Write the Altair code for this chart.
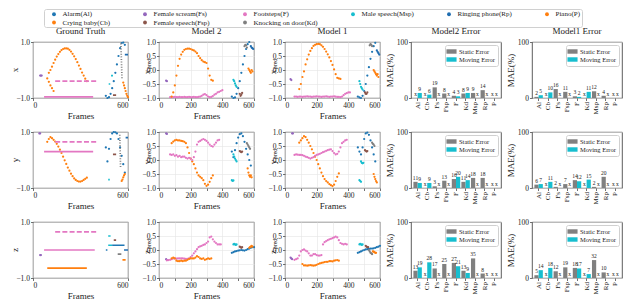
import altair as alt
import pandas as pd

FONT = "Liberation Serif"

# ---------------- classes / colours (legend order = row-major of reference) ----
AL, FS, F, MSP, RP, P, CB, FSP, KD = [
    "Alarm(Al)", "Female scream(Fs)", "Footsteps(F)", "Male speech(Msp)",
    "Ringing phone(Rp)", "Piano(P)", "Crying baby(Cb)", "Female speech(Fsp)",
    "Knocking on door(Kd)"]
LEGEND_ORDER = [AL, FS, F, MSP, RP, P, CB, FSP, KD]
LEGEND_COLORS = ["#1f77b4", "#9467bd", "#e377c2", "#17becf", "#1f6db0",
                 "#ff7f0e", "#ff7f0e", "#8c564b", "#7f7f7f"]

FRAME_TICKS = [0, 100, 200, 300, 400, 500, 600]
VAL_TICKS = [-1.0, -0.5, 0.0, 0.5, 1.0]

# ---------------- Ground truth: dotted curves
GTX_FS = [-0.2, -0.2, -0.2]
GTX_P = [-0.1, 0.0, 0.12, 0.25, 0.37, 0.48, 0.57, 0.65, 0.71, 0.75, 0.77, 0.77,
         0.76, 0.72, 0.66, 0.58, 0.49, 0.39, 0.28, 0.16, 0.04, -0.09, -0.2, -0.31, -0.4]
GTX_CB = [-0.3, -0.42, -0.55, -0.65, -0.75]
GTX_AL = [-0.92, -1.0, -0.97, -0.85, -0.65, -0.4, -0.1, 0.2, 0.5, 0.78, 0.96, 0.98, 0.9]
GTX_CB2 = [-0.45, -0.55, -0.65, -0.75, -0.85, -0.92, -0.97]

GTY_FS = [0.95, 0.95]
GTY_CB = [0.65, 0.75, 0.82, 0.78, 0.72, 0.66, 0.58, 0.48, 0.37, 0.25, 0.12, -0.01,
          -0.14, -0.27, -0.38, -0.49, -0.58, -0.66, -0.71, -0.75, -0.77, -0.77,
          -0.75, -0.71, -0.67, -0.63]
GTY_AL = [0.45, -0.05, 0.4, 0.75, 0.95, 1.0, 0.99, 0.95, 0.75, 0.45, 0.15, -0.15, -0.45]
GTY_CB2 = [-0.75, -0.7, -0.62, -0.55, -0.5]

GTZ_FS = [-0.18, -0.18]

# ---------------- Ground truth: flat segments (class, x0, x1, y0, y1, style)
GTX_SEG = [(F, 70, 380, -0.96, -0.96, "solid"), (F, 140, 400, -0.4, -0.4, "dash"),
           (MSP, 478, 488, -0.5, -0.5, "solid"), (MSP, 493, 505, -0.2, -0.2, "solid"),
           (FSP, 505, 525, -0.9, -0.9, "solid"), (RP, 580, 600, 0.55, 0.55, "solid"),
           (KD, 555, 562, 0.95, -0.3, "dot")]
GTY_SEG = [(F, 70, 380, 0.3, 0.3, "solid"), (F, 140, 400, 0.65, 0.65, "dash"),
           (FSP, 505, 525, 0.2, 0.2, "solid"), (MSP, 475, 485, -0.7, -0.7, "solid"),
           (RP, 585, 600, 0.8, 0.8, "solid"), (KD, 548, 553, 0.9, -0.25, "dot")]
GTZ_SEG = [(F, 70, 390, 0.0, 0.0, "solid"), (F, 140, 400, 0.65, 0.65, "dash"),
           (CB, 90, 340, -0.65, -0.65, "solid"), (MSP, 475, 490, 0.5, 0.5, "solid"),
           (AL, 460, 470, 0.0, 0.0, "solid"), (MSP, 475, 500, 0.17, 0.17, "solid"),
           (AL, 500, 578, 0.17, 0.17, "solid"), (FSP, 510, 525, 0.35, 0.35, "solid"),
           (KD, 535, 558, -0.15, -0.15, "solid"), (RP, 575, 600, 0.0, 0.0, "solid"),
           (P, 565, 585, -0.35, -0.35, "solid")]

# ---------------- Model 2 predictions
M2X_FS = [-0.38, -0.4]
M2X_F = [-0.97, -0.97, -0.97, -0.96, -0.97, -0.97, -0.96, -0.97, -0.97, -0.96, -0.97,
         -0.97, -0.96, -0.97, -0.97, -0.96, -0.97, -0.97, -0.96, -0.95, -0.92, -0.88,
         -0.86, -0.9, -0.95, -0.97, -0.96, -0.93, -0.88, -0.85, -0.8, -0.78, -0.75, -0.72]
M2X_CB = [-0.95, -0.8, -0.55, -0.2, 0.15, 0.4, 0.55, 0.65, 0.72, 0.75, 0.76, 0.76,
          0.75, 0.72, 0.7, 0.66, 0.6, 0.5, 0.42, 0.35, 0.3, 0.28, 0.25, 0.05, -0.2,
          -0.35, -0.38]
M2X_AL = [-0.95, -1.0, -0.98, -0.85, -0.65, -0.4, -0.1, 0.2, 0.5, 0.75, 0.92, 1.0]
M2X_RP = [0.85, 0.8, 0.78, 0.75]
M2X_MSP = [-0.35, -0.4, -0.48, -0.55, -0.6]
M2X_FSP = [-0.85, -0.92, -0.88, -0.82]
M2X_KD = [0.85, 0.9, 0.88, 0.8]
M2X_P = [0.05, 0.0, -0.05, -0.1, 0.0, -0.05]

M2Y_FS = [0.95, 0.93]
M2Y_CB = [0.6, 0.66, 0.7, 0.72, 0.7, 0.7, 0.68, 0.67, 0.65, 0.6, 0.45, 0.25, 0.05,
          -0.05, -0.15, -0.3, -0.45, -0.55, -0.6, -0.65, -0.72, -0.85, -0.92, -0.88,
          -0.78, -0.65, -0.55]
M2Y_F = [0.2, 0.18, 0.2, 0.15, 0.17, 0.12, 0.15, 0.1, 0.12, 0.12, 0.08, 0.05, 0.08,
         0.05, 0.0, 0.1, 0.3, 0.55, 0.65, 0.68, 0.72, 0.75, 0.72, 0.68, 0.62, 0.55,
         0.5, 0.48, 0.55, 0.62, 0.7, 0.72]
M2Y_AL = [0.3, 0.1, 0.35, 0.6, 0.8, 0.92, 0.95, 0.85, 0.65, 0.4, 0.2, 0.0, -0.2]
M2Y_MSP = [0.2, 0.12, 0.05, 0.0, -0.05]
M2Y_MSP2 = [-0.72, -0.75, -0.73]
M2Y_FSP = [0.32, 0.3, 0.28, 0.3]
M2Y_KD = [0.6, 0.55, 0.5, 0.45, 0.4]
M2Y_P = [-0.3, -0.45, -0.55, -0.6, -0.55, -0.62]

M2Z_FS = [-0.33, -0.36]
M2Z_F = [-0.37, -0.36, -0.35, -0.33, -0.3, -0.3, -0.31, -0.3, -0.3, -0.3, -0.3, -0.31,
         -0.32, -0.32, -0.3, -0.25, -0.2, -0.12, -0.05, 0.03, 0.1, 0.13, 0.15, 0.18,
         0.2, 0.25, 0.3, 0.45, 0.48, 0.38, 0.3, 0.25, 0.2, 0.2, 0.2]
M2Z_CB = [-0.3, -0.27, -0.3, -0.38, -0.4, -0.4, -0.38, -0.4, -0.38, -0.38, -0.35,
          -0.32, -0.3, -0.3, -0.3, -0.27, -0.22, -0.25, -0.3, -0.32, -0.3, -0.35,
          -0.33, -0.3, -0.32, -0.3]
M2Z_AL = [-0.1, -0.08, -0.05, -0.04, -0.02, -0.01, 0.0, -0.01, -0.02, 0.0, 0.03,
          0.05, 0.08, 0.1, 0.1]
M2Z_MSP = [0.2, 0.22, 0.2, 0.18, 0.2]
M2Z_FSP = [0.12, 0.1, 0.08, 0.1]
M2Z_P = [0.08, 0.1, 0.12, 0.15, 0.12]

# ---------------- Model 1 predictions
M1X_FS = [-0.33, -0.36]
M1X_CB = [-0.68, -0.5, -0.25, -0.05, 0.2, 0.38, 0.55, 0.68, 0.78, 0.86, 0.9, 0.92,
          0.93, 0.92, 0.88, 0.83, 0.75, 0.66, 0.56, 0.45, 0.32, 0.18, 0.02, -0.15,
          -0.28, -0.3, -0.32]
M1X_F = [-0.95, -0.95, -0.96, -0.95, -0.95, -0.96, -0.95, -0.95, -0.94, -0.95, -0.95,
         -0.96, -0.95, -0.95, -0.94, -0.95, -0.95, -0.96, -0.95, -0.95, -0.94, -0.95,
         -0.96, -0.95, -0.95, -0.94, -0.95, -0.96, -0.96, -0.97, -0.95, -0.9, -0.85,
         -0.83, -0.8, -0.8]
M1X_AL = [-0.95, -0.98, -1.0, -0.92, -0.75, -0.5, -0.2, 0.1, 0.4, 0.65, 0.85, 0.97]
M1X_RP = [0.7, 0.65, 0.6, 0.55]
M1X_MSP = [-0.4, -0.5, -0.6, -0.65, -0.7]
M1X_FSP = [-0.8, -0.85, -0.85, -0.8]
M1X_KD = [0.88, 0.92, 0.9, 0.85]
M1X_P = [0.0, -0.05, -0.1, -0.15, -0.2, -0.15, -0.25]

M1Y_FS = [0.95, 0.95]
M1Y_CB = [0.62, 0.7, 0.78, 0.85, 0.82, 0.72, 0.62, 0.5, 0.38, 0.25, 0.12, 0.0, -0.15,
          -0.3, -0.45, -0.58, -0.68, -0.75, -0.8, -0.86, -0.9, -0.93, -0.88, -0.75,
          -0.6, -0.48]
M1Y_F = [0.18, 0.2, 0.19, 0.18, 0.18, 0.17, 0.15, 0.12, 0.1, 0.08, 0.05, 0.08, 0.1,
         0.15, 0.18, 0.2, 0.22, 0.25, 0.28, 0.3, 0.33, 0.35, 0.37, 0.38, 0.32, 0.25,
         0.2, 0.22, 0.3, 0.45, 0.6, 0.65, 0.7, 0.72]
M1Y_AL = [0.45, 0.3, 0.2, 0.45, 0.75, 0.95, 0.98, 0.9, 0.7, 0.45, 0.2, -0.05]
M1Y_FSP = [0.35, 0.33, 0.3, 0.32]
M1Y_MSP = [-0.05, -0.1, -0.12, -0.1]
M1Y_MSP2 = [-0.72, -0.75, -0.78]
M1Y_KD = [0.62, 0.58, 0.55, 0.5]
M1Y_P = [-0.5, -0.6, -0.68, -0.75, -0.8]

M1Z_FS = [-0.27, -0.3, -0.33]
M1Z_F = [-0.35, -0.33, -0.3, -0.2, -0.05, 0.0, 0.02, -0.02, -0.05, -0.12, -0.2,
         -0.2, -0.15, -0.15, -0.18, -0.2, -0.2, -0.18, 0.2, 0.28, 0.32, 0.35, 0.38,
         0.4, 0.42, 0.45, 0.48, 0.45, 0.35, 0.25, 0.22, 0.2, 0.22, 0.2]
M1Z_CB = [-0.5, -0.55, -0.55, -0.56, -0.55, -0.54, -0.55, -0.56, -0.55, -0.53,
          -0.5, -0.48, -0.46, -0.45, -0.43, -0.42, -0.42, -0.4, -0.4, -0.41, -0.38,
          -0.37, -0.36, -0.38]
M1Z_AL = [-0.1, -0.08, -0.05, -0.02, 0.0, 0.02, 0.03, 0.04, 0.05, 0.05, 0.06, 0.08,
          0.1, 0.12, 0.15]
M1Z_MSP = [0.2, 0.22, 0.2, 0.18, 0.2]
M1Z_FSP = [0.15, 0.12, 0.1, 0.1]
M1Z_KD = [0.0, -0.05, -0.1, -0.12, -0.15]
M1Z_P = [-0.05, -0.06, -0.08, -0.1, -0.1]

# ---------------- per-panel dotted series: (class, start, step, values)
GTX_PTS = [(FS, 45, 5, GTX_FS), (P, 100, 10, GTX_P), (CB, 90, 10, GTX_CB),
           (AL, 460, 10, GTX_AL), (CB, 570, 5, GTX_CB2)]
GTY_PTS = [(FS, 40, 5, GTY_FS), (CB, 90, 10, GTY_CB), (AL, 460, 10, GTY_AL),
           (CB, 560, 5, GTY_CB2)]
GTZ_PTS = [(FS, 45, 5, GTZ_FS)]
M2X_PTS = [(FS, 45, 5, M2X_FS), (F, 70, 10, M2X_F), (CB, 80, 10, M2X_CB),
           (AL, 460, 10, M2X_AL), (RP, 580, 5, M2X_RP), (MSP, 470, 5, M2X_MSP),
           (FSP, 510, 5, M2X_FSP), (KD, 540, 5, M2X_KD), (P, 565, 5, M2X_P)]
M2Y_PTS = [(FS, 45, 5, M2Y_FS), (CB, 80, 10, M2Y_CB), (F, 70, 10, M2Y_F),
           (AL, 460, 10, M2Y_AL), (MSP, 470, 5, M2Y_MSP), (MSP, 460, 5, M2Y_MSP2),
           (FSP, 510, 5, M2Y_FSP), (KD, 555, 5, M2Y_KD), (P, 560, 5, M2Y_P)]
M2Z_PTS = [(FS, 45, 5, M2Z_FS), (F, 50, 10, M2Z_F), (CB, 80, 10, M2Z_CB),
           (AL, 460, 10, M2Z_AL), (MSP, 470, 5, M2Z_MSP), (FSP, 510, 5, M2Z_FSP),
           (P, 570, 5, M2Z_P)]
M1X_PTS = [(FS, 35, 5, M1X_FS), (CB, 90, 10, M1X_CB), (F, 60, 10, M1X_F),
           (AL, 460, 10, M1X_AL), (RP, 580, 5, M1X_RP), (MSP, 470, 5, M1X_MSP),
           (FSP, 505, 5, M1X_FSP), (KD, 535, 5, M1X_KD), (P, 560, 5, M1X_P)]
M1Y_PTS = [(FS, 45, 5, M1Y_FS), (CB, 90, 10, M1Y_CB), (F, 60, 10, M1Y_F),
           (AL, 460, 10, M1Y_AL), (FSP, 505, 5, M1Y_FSP), (MSP, 480, 5, M1Y_MSP),
           (MSP, 470, 5, M1Y_MSP2), (KD, 550, 5, M1Y_KD), (P, 560, 5, M1Y_P)]
M1Z_PTS = [(FS, 35, 5, M1Z_FS), (F, 60, 10, M1Z_F), (CB, 110, 10, M1Z_CB),
           (AL, 460, 10, M1Z_AL), (MSP, 470, 5, M1Z_MSP), (FSP, 510, 5, M1Z_FSP),
           (KD, 530, 5, M1Z_KD), (P, 555, 5, M1Z_P)]

# ---------------- error bars
CATS = ["Al", "Cb", "Fs", "Fsp", "F", "Kd", "Msp", "Rp", "P"]
KINDS = ["Static Error", "Moving Error"]
M2X_STATIC = [None, None, 19, 8, 4, 8, 9, 14, None]
M2X_MOVING = [9, 6, None, None, 3, 9, None, None, None]
M1X_STATIC = [2, None, 16, 11, 3, None, 12, 4, None]
M1X_MOVING = [5, 10, None, None, 2, 11, None, None, None]
M2Y_STATIC = [11, None, 3, 13, 16, 11, 18, 18, None]
M2Y_MOVING = [9, 9, None, None, 20, 14, None, None, None]
M1Y_STATIC = [6, None, 2, 7, 14, None, 2, 20, None]
M1Y_MOVING = [7, 11, None, None, 12, 15, None, None, None]
M2Z_STATIC = [13, None, 17, 25, 27, 13, 35, 8, None]
M2Z_MOVING = [19, 28, None, None, 21, 9, None, None, None]
M1Z_STATIC = [5, None, 12, 19, 18, None, 32, 10, None]
M1Z_MOVING = [14, 18, None, None, 17, 7, None, None, None]

TXT = "#222222"
ROW_PITCH = 56 + 34
PAD_RP = " " * 20
PAD_P = " " * 10
MAIN_LEGEND = alt.Legend(
    orient="none", legendX=11, legendY=-33 - ROW_PITCH, direction="horizontal", columns=6,
    title=None, labelFont=FONT, labelFontSize=7, labelColor=TXT, symbolType="circle",
    symbolSize=15, symbolStrokeWidth=0, symbolOpacity=1, strokeColor="#d0d0d0",
    fillColor="white", padding=1.5, rowPadding=0.5, columnPadding=26, labelOffset=5,
    symbolOffset=5, cornerRadius=2, labelLimit=400,
    labelExpr=("datum.label == 'Ringing phone(Rp)' ? datum.label + '" + PAD_RP + "' : "
               "datum.label == 'Piano(P)' ? datum.label + '" + PAD_P + "' : datum.label"))


def line_panel(pts, segs, title, letter, pred, legend):
    recs = []
    for cls, start, step, vals in pts:
        for i, v in enumerate(vals):
            recs.append({"cls": cls, "frame": start + i * step, "val": v})
    xsc = alt.Scale(domain=[0, 600], nice=False, zero=False)
    ysc = alt.Scale(domain=[-1, 1], nice=False, zero=False)
    csc = alt.Scale(domain=LEGEND_ORDER, range=LEGEND_COLORS)
    if legend is not None:
        cenc = alt.Color("cls:N", scale=csc, legend=legend)
    else:
        cenc = alt.Color("cls:N", scale=csc, legend=None)
    layers = [alt.Chart(pd.DataFrame(recs)).mark_circle(size=5, opacity=1).encode(
        x=alt.X("frame:Q", scale=xsc, axis=alt.Axis(values=FRAME_TICKS, title="Frames", format="d")),
        y=alt.Y("val:Q", scale=ysc, axis=alt.Axis(values=VAL_TICKS, format=".1f", title=None)),
        color=cenc)]
    if segs:
        sdf = pd.DataFrame(segs, columns=["cls", "x0", "x1", "y0", "y1", "style"])
        layers.append(alt.Chart(sdf).mark_rule(strokeWidth=1.7).encode(
            x=alt.X("x0:Q", scale=xsc), x2="x1:Q",
            y=alt.Y("y0:Q", scale=ysc), y2="y1:Q",
            color=cenc,
            strokeDash=alt.StrokeDash("style:N", scale=alt.Scale(
                domain=["solid", "dash", "dot"], range=[[1, 0], [5, 2.2], [1, 1.6]]), legend=None)))
    if pred:
        layers.append(alt.Chart(pd.DataFrame({"t": [letter]})).mark_text(
            angle=270, font=FONT, fontSize=9, align="center", baseline="middle", color=TXT).encode(
            x=alt.value(-12.5), y=alt.value(30), text="t:N"))
        layers.append(alt.Chart(pd.DataFrame({"t": ["pred"]})).mark_text(
            angle=270, font=FONT, fontSize=6, align="center", baseline="middle", color=TXT).encode(
            x=alt.value(-10.5), y=alt.value(22), text="t:N"))
    else:
        layers.append(alt.Chart(pd.DataFrame({"t": [letter]})).mark_text(
            angle=270, font=FONT, fontSize=9, align="center", baseline="middle", color=TXT).encode(
            x=alt.value(-18), y=alt.value(28), text="t:N"))
    ch = alt.layer(*layers).properties(width=95, height=56)
    if title:
        ch = ch.properties(title=title)
    return ch


def bar_panel(static, moving, title, w):
    recs = []
    for c, s, m in zip(CATS, static, moving):
        for kind, v in (("Static Error", s), ("Moving Error", m)):
            recs.append({"cat": c, "kind": kind, "v": v,
                         "lab": "x" if v is None else str(v),
                         "ly": 0 if v is None else v})
    df = pd.DataFrame(recs)
    xenc = alt.X("cat:N", sort=CATS, scale=alt.Scale(paddingInner=0.12, paddingOuter=0.25),
                 axis=alt.Axis(title=None, labelAngle=270, grid=False, labelFontSize=7))
    xoff = alt.XOffset("kind:N", sort=KINDS, scale=alt.Scale(domain=KINDS))
    ysc = alt.Scale(domain=[0, 100], nice=False)
    bars = alt.Chart(df).mark_bar().encode(
        x=xenc, xOffset=xoff,
        y=alt.Y("v:Q", scale=ysc, axis=alt.Axis(values=[0, 20, 40, 60, 80, 100], title="MAE(%)")),
        color=alt.Color("kind:N", scale=alt.Scale(domain=KINDS, range=["#808080", "#17becf"]),
                        legend=alt.Legend(orient="top-right", offset=3, title=None,
                                          labelFont=FONT, labelFontSize=6.5, labelColor=TXT,
                                          symbolType="M-1.6,-0.7H1.6V0.7H-1.6Z", symbolSize=40,
                                          symbolStrokeWidth=0, fillColor="white",
                                          strokeColor="#d0d0d0", padding=3, rowPadding=1,
                                          labelOffset=4, cornerRadius=2)))
    labs = alt.Chart(df).mark_text(baseline="bottom", dy=-1, font=FONT, fontSize=5.5,
                                   color=TXT).encode(
        x=xenc, xOffset=xoff, y=alt.Y("ly:Q", scale=ysc), text="lab:N")
    ch = alt.layer(bars, labs).properties(width=w, height=56)
    if title:
        ch = ch.properties(title=title)
    return ch


panels = [
    line_panel(GTX_PTS, GTX_SEG, "Ground Truth", "x", False, None),
    line_panel(M2X_PTS, None, "Model 2", "x", True, None),
    line_panel(M1X_PTS, None, "Model 1", "x", True, None),
    bar_panel(M2X_STATIC, M2X_MOVING, "Model2 Error", 90),
    bar_panel(M1X_STATIC, M1X_MOVING, "Model1 Error", 90),
    line_panel(GTY_PTS, GTY_SEG, None, "y", False, MAIN_LEGEND),
    line_panel(M2Y_PTS, None, None, "y", True, None),
    line_panel(M1Y_PTS, None, None, "y", True, None),
    bar_panel(M2Y_STATIC, M2Y_MOVING, None, 90),
    bar_panel(M1Y_STATIC, M1Y_MOVING, None, 90),
    line_panel(GTZ_PTS, GTZ_SEG, None, "z", False, None),
    line_panel(M2Z_PTS, None, None, "z", True, None),
    line_panel(M1Z_PTS, None, None, "z", True, None),
    bar_panel(M2Z_STATIC, M2Z_MOVING, None, 90),
    bar_panel(M1Z_STATIC, M1Z_MOVING, None, 90),
]

chart = alt.concat(*panels, columns=5, spacing={"row": 34, "column": 31},
                   bounds="flush", align="each").resolve_scale(
    color="independent", strokeDash="independent").properties(
    padding={"left": 2, "top": 0, "right": 0, "bottom": 0}
).configure_axis(
    labelFont=FONT, titleFont=FONT, labelFontSize=7.5, titleFontSize=9,
    titleFontWeight="normal", labelColor=TXT, titleColor=TXT, tickColor="#333333",
    tickSize=2.5, tickWidth=0.7, grid=True, gridColor="#e4e4e4", gridWidth=0.6,
    domain=False, labelPadding=1, titlePadding=2
).configure_view(stroke="#333333", strokeWidth=0.8
).configure_title(font=FONT, fontSize=9, fontWeight="normal", color=TXT, offset=2
).configure_legend(labelFont=FONT)

chart.save("out.html", embed_options={"renderer": "svg", "actions": False})
